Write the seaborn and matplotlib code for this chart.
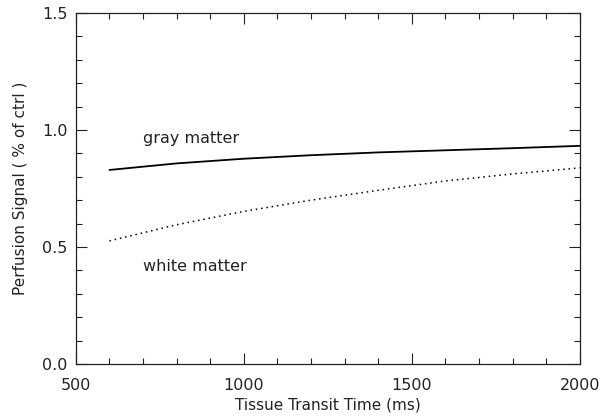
import pandas as pd
import seaborn as sns
import matplotlib
matplotlib.use("Agg")
import matplotlib.pyplot as plt
from matplotlib.ticker import MultipleLocator

transit_ms = [600, 800, 1000, 1200, 1400, 1600, 1800, 2000]
gray_matter = [0.829, 0.857, 0.877, 0.892, 0.904, 0.913, 0.922, 0.932]
white_matter = [0.526, 0.595, 0.652, 0.700, 0.742, 0.782, 0.812, 0.838]

df = pd.DataFrame({
    'Transit': transit_ms * 2,
    'Signal': gray_matter + white_matter,
    'Tissue': ['gray matter'] * len(transit_ms) + ['white matter'] * len(transit_ms),
})

sns.set_style("ticks")
plt.rcParams['font.family'] = ['DejaVu Sans']

fig = plt.figure(figsize=(6.02, 4.16), dpi=100)
ax = fig.add_axes([0.126, 0.125, 0.837, 0.844])

sns.lineplot(data=df, x='Transit', y='Signal', style='Tissue', color='black',
             dashes={'gray matter': '', 'white matter': (1, 2.5)},
             legend=False, ax=ax)
ax.lines[0].set_linewidth(1.3)
ax.lines[1].set_linewidth(1.1)

ax.set_xlim(500, 2000)
ax.set_ylim(0, 1.5)
ax.xaxis.set_major_locator(MultipleLocator(500))
ax.xaxis.set_minor_locator(MultipleLocator(100))
ax.yaxis.set_major_locator(MultipleLocator(0.5))
ax.yaxis.set_minor_locator(MultipleLocator(0.1))
ax.yaxis.set_major_formatter(matplotlib.ticker.FormatStrFormatter('%.1f'))
ax.tick_params(which='both', direction='in', top=True, right=True, labelsize=11.5,
               colors='#222222', width=0.8, pad=6)
ax.tick_params(axis='x', which='major', pad=10)
ax.tick_params(which='major', length=8)
ax.tick_params(which='minor', length=4)
for sp in ax.spines.values():
    sp.set_linewidth(0.9)
    sp.set_color('#222222')

ax.set_xlabel('Tissue Transit Time (ms)', fontsize=11, color='#222222', labelpad=3)
ax.set_ylabel('Perfusion Signal ( % of ctrl )', fontsize=11, color='#222222', labelpad=10)

ax.text(700, 0.965, 'gray matter', fontsize=11.5, color='#222222', va='center')
ax.text(700, 0.415, 'white matter', fontsize=11.5, color='#222222', va='center')

fig.savefig('out.png', dpi=100)
